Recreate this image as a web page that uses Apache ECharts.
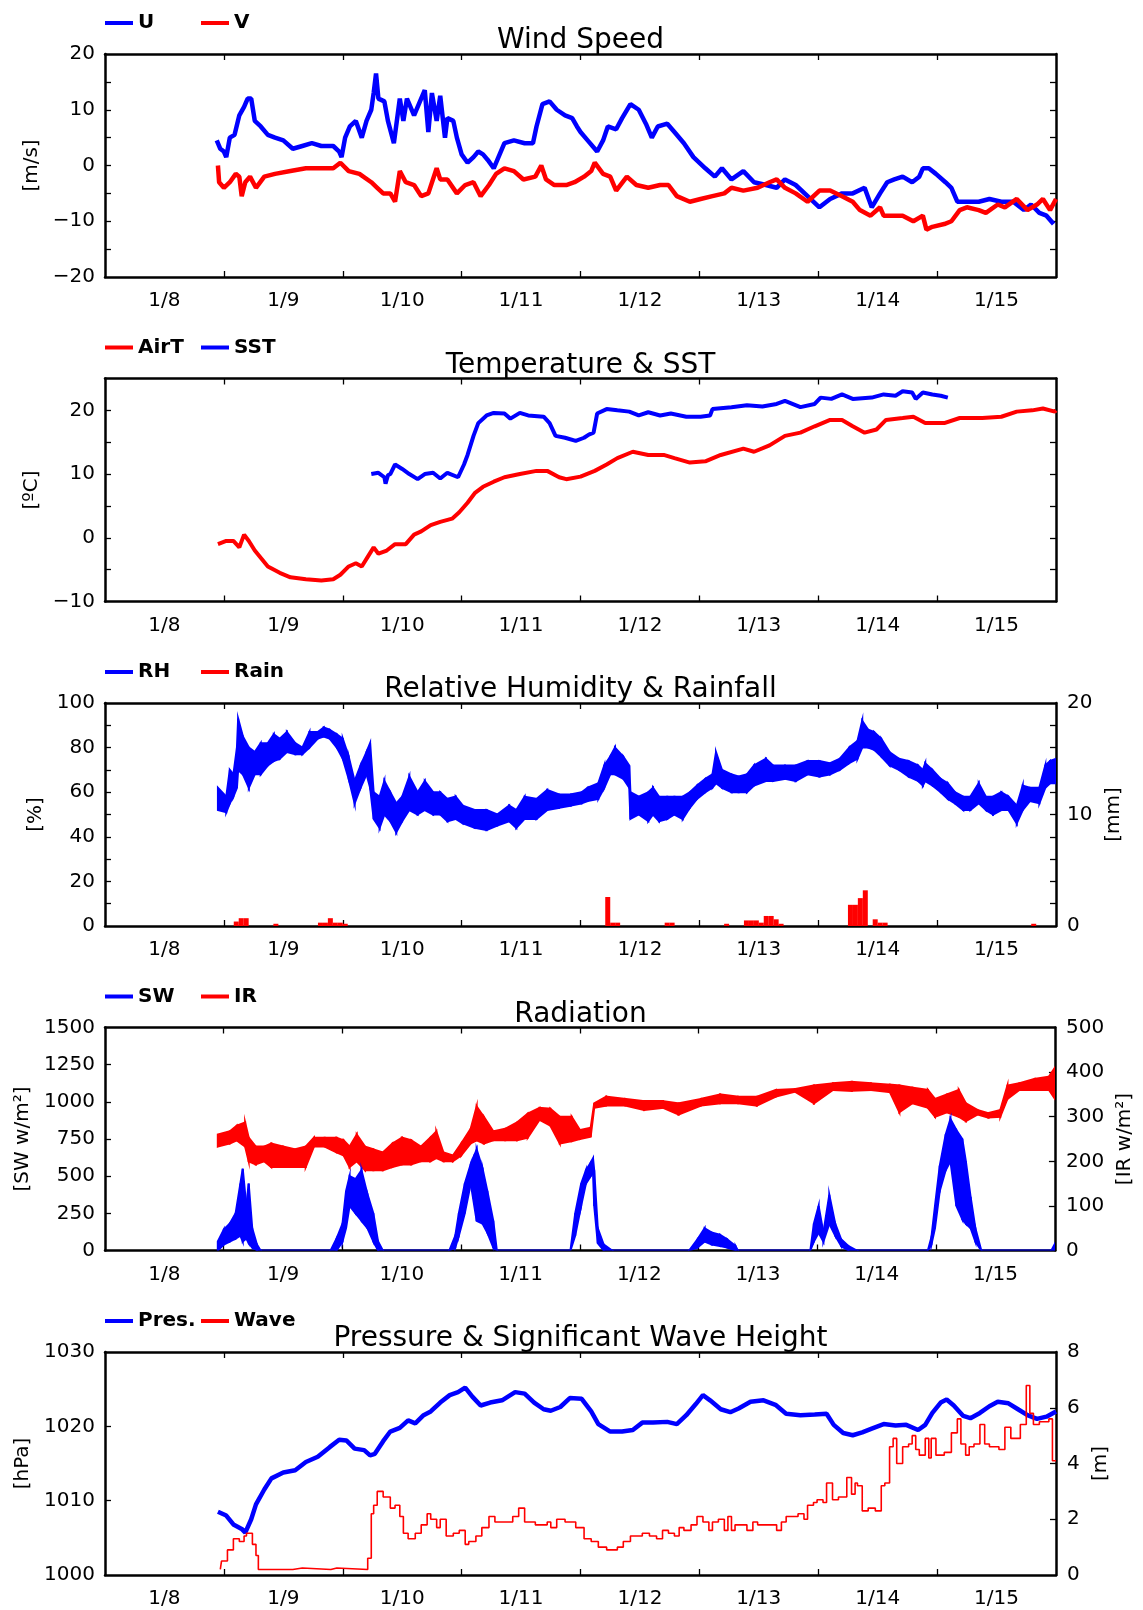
<!DOCTYPE html>
<html><head><meta charset="utf-8">
<script src="https://cdn.jsdelivr.net/npm/echarts@6/dist/echarts.min.js"></script>
<style>html,body{margin:0;padding:0;background:#fff}#c{width:1143px;height:1610px}</style>
</head><body><div id="c"></div>
<script>
// x values: days since 1/8 00:00
const dayLabels = ['1/8','1/9','1/10','1/11','1/12','1/13','1/14','1/15'];

const windU = [[0.94,4.5],[0.97,3],[1.0,2.5],[1.02,1.5],[1.05,5],[1.09,5.5],[1.13,9],[1.17,10.5],[1.2,12],[1.23,12],[1.26,8],[1.31,7],[1.37,5.5],[1.43,5],[1.5,4.5],[1.58,3],[1.66,3.5],[1.74,4],[1.82,3.5],[1.92,3.5],[1.97,2.5],[1.99,1.5],[2.02,5],[2.06,7],[2.11,8],[2.16,5],[2.2,8],[2.24,10],[2.26,13],[2.28,16.5],[2.3,12],[2.35,11.5],[2.38,8],[2.43,4],[2.48,12],[2.51,8],[2.54,12],[2.6,9],[2.64,11],[2.69,13.5],[2.72,6],[2.75,13],[2.79,8],[2.82,12.5],[2.86,5],[2.88,8.5],[2.93,8],[2.96,5],[3.0,2],[3.05,0.5],[3.1,1.5],[3.14,2.5],[3.18,2],[3.22,1],[3.27,-0.5],[3.31,1.5],[3.36,4],[3.44,4.5],[3.53,4],[3.6,4],[3.63,7],[3.68,11],[3.74,11.5],[3.8,10],[3.87,9],[3.93,8.5],[3.97,7],[4.0,6],[4.06,4.5],[4.14,2.5],[4.19,4.5],[4.23,7],[4.3,6.5],[4.35,8.5],[4.42,11],[4.49,10],[4.55,7.5],[4.6,5],[4.65,7],[4.73,7.5],[4.79,6],[4.87,4],[4.95,1.5],[5.05,-0.5],[5.13,-2],[5.19,-0.5],[5.27,-2.5],[5.37,-1],[5.46,-3],[5.56,-3.5],[5.65,-4],[5.72,-2.5],[5.81,-3.5],[5.91,-5.5],[6.01,-7.5],[6.1,-6],[6.2,-5],[6.29,-5],[6.39,-4],[6.45,-7.5],[6.52,-5],[6.58,-3],[6.64,-2.5],[6.71,-2],[6.79,-3],[6.85,-2],[6.88,-0.5],[6.93,-0.5],[6.99,-1.5],[7.07,-3],[7.12,-4],[7.17,-6.5],[7.25,-6.5],[7.35,-6.5],[7.44,-6],[7.54,-6.5],[7.64,-6.5],[7.73,-8],[7.79,-7],[7.86,-8.5],[7.92,-9],[7.98,-10.5]];

const windV = [[0.95,0],[0.96,-3],[1.0,-4],[1.05,-3],[1.1,-1.5],[1.13,-2],[1.15,-5.5],[1.18,-3],[1.22,-2],[1.27,-4],[1.34,-2],[1.43,-1.5],[1.56,-1],[1.69,-0.5],[1.82,-0.5],[1.92,-0.5],[1.98,0.5],[2.05,-1],[2.14,-1.5],[2.24,-3],[2.29,-4],[2.34,-5],[2.4,-5],[2.44,-6.5],[2.48,-1],[2.53,-3],[2.6,-3.5],[2.66,-5.5],[2.72,-5],[2.79,-0.5],[2.82,-2.5],[2.88,-2.5],[2.96,-5],[3.03,-3.5],[3.1,-3],[3.16,-5.5],[3.23,-3.5],[3.29,-1.5],[3.36,-0.5],[3.44,-1],[3.52,-2.5],[3.62,-2],[3.67,0],[3.71,-2.5],[3.78,-3.5],[3.88,-3.5],[3.95,-3],[4.03,-2],[4.09,-1],[4.12,0.5],[4.19,-1.5],[4.25,-2],[4.3,-4.5],[4.39,-2],[4.47,-3.5],[4.57,-4],[4.67,-3.5],[4.74,-3.5],[4.81,-5.5],[4.92,-6.5],[5.01,-6],[5.11,-5.5],[5.21,-5],[5.27,-4],[5.37,-4.5],[5.49,-4],[5.59,-3],[5.65,-2.5],[5.72,-4],[5.81,-5],[5.91,-6.5],[6.01,-4.5],[6.1,-4.5],[6.2,-5.5],[6.29,-6.5],[6.35,-8],[6.44,-9],[6.52,-7.5],[6.55,-9],[6.61,-9],[6.71,-9],[6.8,-10],[6.88,-9],[6.91,-11.5],[6.96,-11],[7.06,-10.5],[7.12,-10],[7.19,-8],[7.25,-7.5],[7.35,-8],[7.41,-8.5],[7.51,-7],[7.57,-7.5],[7.67,-6],[7.76,-8],[7.84,-7],[7.89,-6],[7.95,-8],[8.0,-6]];

const airT = [[0.95,-1],[1.02,-0.5],[1.08,-0.5],[1.13,-1.5],[1.17,0.5],[1.21,-0.5],[1.26,-2],[1.37,-4.5],[1.47,-5.5],[1.56,-6.2],[1.69,-6.5],[1.82,-6.7],[1.92,-6.5],[1.98,-5.8],[2.05,-4.5],[2.11,-4],[2.16,-4.5],[2.21,-3],[2.26,-1.5],[2.3,-2.5],[2.37,-2],[2.44,-1],[2.53,-1],[2.6,0.5],[2.66,1],[2.74,2],[2.82,2.5],[2.92,3],[2.98,4],[3.05,5.5],[3.11,7],[3.18,8],[3.27,8.8],[3.36,9.5],[3.49,10],[3.63,10.5],[3.72,10.5],[3.82,9.5],[3.88,9.2],[4.0,9.6],[4.12,10.5],[4.22,11.5],[4.31,12.5],[4.44,13.5],[4.57,13],[4.7,13],[4.79,12.5],[4.92,11.8],[5.05,12],[5.18,13],[5.37,14],[5.46,13.5],[5.59,14.5],[5.72,16],[5.85,16.5],[5.97,17.5],[6.1,18.5],[6.2,18.5],[6.29,17.5],[6.39,16.5],[6.49,17],[6.57,18.5],[6.71,18.8],[6.8,19],[6.9,18],[7.06,18],[7.19,18.8],[7.38,18.8],[7.54,19],[7.67,19.8],[7.8,20],[7.89,20.3],[7.99,19.8],[8.0,20]];

const sst = [[2.24,10],[2.3,10.2],[2.35,9.5],[2.36,8.5],[2.38,9.8],[2.4,10],[2.44,11.5],[2.5,10.8],[2.56,10],[2.63,9.2],[2.69,10],[2.76,10.2],[2.82,9.3],[2.88,10.2],[2.97,9.5],[3.02,11.5],[3.05,13],[3.1,16],[3.14,18],[3.21,19.2],[3.27,19.6],[3.36,19.5],[3.41,18.7],[3.49,19.6],[3.56,19.2],[3.69,19],[3.74,18],[3.79,16],[3.87,15.7],[3.96,15.2],[4.03,15.7],[4.07,16.2],[4.11,16.5],[4.14,19.5],[4.22,20.2],[4.31,20],[4.41,19.8],[4.49,19.2],[4.57,19.7],[4.67,19.2],[4.76,19.5],[4.89,19],[5.01,19],[5.09,19.2],[5.11,20.2],[5.27,20.5],[5.4,20.8],[5.53,20.6],[5.65,21],[5.72,21.5],[5.85,20.5],[5.97,21],[6.02,22],[6.11,21.8],[6.2,22.5],[6.29,21.8],[6.45,22],[6.55,22.5],[6.65,22.3],[6.71,23],[6.79,22.8],[6.82,21.8],[6.88,22.8],[6.96,22.5],[7.03,22.3],[7.09,22]];

// Relative humidity: scattered band, lower / upper edge
const rhTime = [0.95,1.02,1.05,1.08,1.11,1.12,1.16,1.21,1.26,1.31,1.37,1.42,1.47,1.53,1.6,1.66,1.72,1.79,1.84,1.89,1.95,2.0,2.05,2.1,2.15,2.2,2.23,2.26,2.31,2.35,2.4,2.45,2.5,2.56,2.63,2.69,2.76,2.82,2.88,2.95,3.01,3.11,3.21,3.3,3.4,3.46,3.53,3.63,3.72,3.82,3.92,4.01,4.06,4.15,4.2,4.25,4.29,4.36,4.41,4.42,4.49,4.57,4.61,4.66,4.73,4.79,4.86,4.92,4.98,5.05,5.11,5.14,5.19,5.27,5.33,5.4,5.46,5.56,5.62,5.72,5.81,5.91,6.01,6.1,6.18,6.26,6.33,6.37,6.42,6.47,6.53,6.6,6.68,6.76,6.84,6.88,6.9,6.96,7.03,7.09,7.15,7.22,7.28,7.35,7.41,7.47,7.54,7.6,7.67,7.72,7.78,7.86,7.91,7.95,8.0];
const rhLow  = [52,51,55,58,62,70,68,62,68,68,72,74,75,78,77,77,80,84,85,84,80,75,66,55,62,68,62,48,44,50,47,42,47,52,50,52,50,50,47,48,46,44,43,45,47,44,48,48,52,53,54,55,56,57,62,68,68,66,62,48,50,47,50,47,48,50,48,53,57,60,62,64,62,60,60,60,63,65,65,66,65,68,67,68,70,73,75,80,80,79,76,72,70,67,65,63,65,63,60,57,55,52,52,55,52,50,52,52,46,52,56,55,62,64,64];
const rhHigh = [62,58,70,68,80,93,85,80,78,82,82,86,84,87,82,80,87,87,89,88,86,84,76,65,72,78,82,60,58,65,60,55,58,67,60,65,60,60,57,58,54,52,52,50,54,52,58,57,61,59,59,60,62,64,72,76,80,76,72,60,58,60,62,58,58,58,58,60,63,66,68,78,70,68,67,68,72,75,72,72,72,74,74,73,75,80,83,92,88,87,84,78,75,74,72,70,73,70,66,64,60,58,58,64,58,58,60,58,54,63,62,62,72,74,75];

// Rainfall, hourly bins (hour index since 1/8 00:00) in mm
const rainHour = [26,27,28,34,43,44,45,46,47,48,101,102,103,113,114,125,129,130,131,132,133,134,135,136,150,151,152,153,155,156,157,187];
const rainMm   = [0.4,0.7,0.7,0.2,0.3,0.3,0.7,0.3,0.3,0.2,2.6,0.3,0.3,0.3,0.3,0.2,0.5,0.5,0.5,0.3,0.9,0.9,0.6,0.2,1.9,1.9,2.5,3.2,0.6,0.3,0.3,0.2];

// Short-wave radiation band (W/m2)
const swTime = [0.95,1.0,1.05,1.1,1.14,1.16,1.19,1.21,1.24,1.28,1.31,1.9,1.95,2.0,2.03,2.06,2.11,2.16,2.21,2.26,2.3,2.34,2.9,2.95,2.98,3.03,3.08,3.1,3.13,3.18,3.22,3.27,3.3,3.92,3.96,4.01,4.05,4.09,4.11,4.12,4.15,4.2,4.27,4.92,4.99,5.05,5.11,5.18,5.24,5.31,5.33,5.94,5.97,6.01,6.05,6.1,6.15,6.2,6.26,6.33,6.93,6.96,6.99,7.03,7.08,7.12,7.17,7.22,7.25,7.29,7.33,7.38,7.97,8.0];
const swLow  = [0,40,60,80,100,60,80,50,20,0,0,0,0,60,150,300,250,200,150,60,0,0,0,20,100,250,450,350,200,180,120,20,0,0,100,300,450,500,520,300,50,0,0,0,20,60,40,30,20,0,0,0,60,120,60,180,100,30,0,0,0,40,150,400,540,600,300,210,180,150,60,0,0,0];
const swHigh = [60,140,180,250,450,550,300,450,150,40,0,0,80,180,400,500,480,540,380,250,60,0,0,100,250,450,580,620,680,550,400,200,0,0,250,450,540,590,620,540,150,40,0,0,75,150,120,105,75,30,0,0,180,300,120,375,180,75,30,0,0,90,300,570,780,885,810,750,600,360,150,0,0,45];

// Infrared radiation band (W/m2)
const irTime = [0.95,1.05,1.11,1.18,1.21,1.27,1.34,1.4,1.5,1.6,1.69,1.76,1.85,1.95,2.01,2.06,2.12,2.19,2.26,2.34,2.42,2.5,2.58,2.66,2.74,2.79,2.85,2.93,3.0,3.08,3.13,3.19,3.27,3.37,3.47,3.56,3.66,3.75,3.83,3.93,4.0,4.09,4.12,4.22,4.38,4.54,4.7,4.83,5.02,5.18,5.33,5.49,5.65,5.81,5.97,6.13,6.29,6.45,6.61,6.69,6.8,6.93,6.99,7.09,7.19,7.25,7.35,7.44,7.54,7.6,7.7,7.83,7.95,8.0];
const irLow  = [233,240,247,233,200,193,200,187,187,187,187,233,233,220,213,187,200,180,180,180,187,193,193,200,200,207,200,200,213,240,247,240,247,247,247,253,293,280,240,245,250,255,320,325,325,315,320,305,325,330,330,325,345,356,330,360,358,360,355,310,330,320,300,310,300,290,305,298,300,340,360,360,360,340];
const irHigh = [260,267,280,287,253,233,233,240,233,227,233,253,253,253,247,233,260,233,227,220,240,253,247,233,253,267,220,213,240,273,323,300,267,273,287,307,320,318,300,300,270,275,330,345,340,335,335,330,340,350,345,345,360,362,370,375,378,375,372,370,365,360,340,350,360,330,315,308,315,370,375,385,390,410];

const pres = [[0.95,1008.5],[1.02,1008],[1.08,1006.8],[1.15,1006.2],[1.18,1005.7],[1.23,1007.5],[1.27,1009.5],[1.34,1011.5],[1.4,1013],[1.5,1013.8],[1.6,1014.1],[1.69,1015.2],[1.79,1015.9],[1.89,1017.2],[1.97,1018.2],[2.03,1018.1],[2.1,1017],[2.18,1016.8],[2.23,1016.1],[2.27,1016.3],[2.34,1018],[2.4,1019.3],[2.48,1019.8],[2.55,1020.8],[2.61,1020.4],[2.68,1021.5],[2.74,1022],[2.82,1023.2],[2.9,1024.2],[2.97,1024.6],[3.03,1025.2],[3.09,1024],[3.16,1022.8],[3.24,1023.2],[3.34,1023.5],[3.45,1024.6],[3.53,1024.4],[3.61,1023.2],[3.69,1022.3],[3.75,1022.1],[3.83,1022.6],[3.91,1023.8],[4.01,1023.7],[4.09,1022],[4.15,1020.3],[4.25,1019.3],[4.35,1019.3],[4.44,1019.5],[4.52,1020.5],[4.61,1020.5],[4.73,1020.6],[4.81,1020.3],[4.89,1021.5],[4.97,1023],[5.03,1024.2],[5.09,1023.5],[5.18,1022.3],[5.26,1021.9],[5.33,1022.4],[5.43,1023.3],[5.54,1023.5],[5.64,1022.9],[5.73,1021.7],[5.85,1021.5],[5.97,1021.6],[6.07,1021.7],[6.13,1020.2],[6.21,1019.1],[6.29,1018.8],[6.37,1019.2],[6.45,1019.7],[6.55,1020.3],[6.65,1020.1],[6.74,1020.2],[6.84,1019.5],[6.9,1020.2],[6.96,1021.8],[7.03,1023.2],[7.08,1023.6],[7.14,1022.8],[7.22,1021.4],[7.28,1021.1],[7.36,1021.8],[7.44,1022.7],[7.51,1023.3],[7.6,1023.1],[7.68,1022.3],[7.76,1021.5],[7.84,1021],[7.92,1021.3],[8.0,1022]];

// Significant wave height (m), value holds from its time until the next one
const wave = [[0.97,0.2],[0.98,0.5],[1.03,0.9],[1.08,1.3],[1.13,1.2],[1.17,1.4],[1.19,1.5],[1.24,1.1],[1.27,0.7],[1.29,0.2],[1.58,0.25],[1.66,0.2],[1.9,0.25],[1.95,0.2],[2.21,0.6],[2.24,2.2],[2.26,2.5],[2.29,3.0],[2.34,2.8],[2.4,2.4],[2.44,2.5],[2.48,2.1],[2.51,1.5],[2.55,1.3],[2.61,1.5],[2.66,1.8],[2.71,2.2],[2.74,2.0],[2.79,1.7],[2.82,2.0],[2.87,1.4],[2.93,1.5],[2.98,1.6],[3.03,1.1],[3.06,1.2],[3.12,1.4],[3.17,1.7],[3.23,2.1],[3.28,1.9],[3.43,2.1],[3.48,2.4],[3.53,1.9],[3.62,1.8],[3.72,1.9],[3.75,1.7],[3.8,2.0],[3.87,1.9],[3.96,1.7],[4.03,1.3],[4.09,1.2],[4.15,1.0],[4.22,0.9],[4.31,1.0],[4.36,1.2],[4.42,1.4],[4.52,1.5],[4.58,1.4],[4.64,1.3],[4.69,1.6],[4.74,1.5],[4.79,1.4],[4.83,1.7],[4.87,1.6],[4.93,1.8],[4.98,2.1],[5.03,1.9],[5.08,1.6],[5.11,1.9],[5.16,2.0],[5.21,1.6],[5.24,2.1],[5.27,1.6],[5.3,1.8],[5.4,1.6],[5.45,1.9],[5.49,1.8],[5.65,1.6],[5.69,1.9],[5.73,2.1],[5.83,2.2],[5.88,2.0],[5.91,2.5],[5.96,2.6],[5.99,2.7],[6.04,2.6],[6.07,3.3],[6.12,2.7],[6.17,2.8],[6.24,3.5],[6.28,2.9],[6.31,3.3],[6.33,3.2],[6.37,2.3],[6.42,2.4],[6.48,2.3],[6.53,3.2],[6.56,3.3],[6.6,4.6],[6.63,4.9],[6.66,4.0],[6.71,4.6],[6.76,4.7],[6.79,5.0],[6.82,4.5],[6.85,4.3],[6.9,4.9],[6.93,4.2],[6.95,4.9],[6.99,4.3],[7.06,4.4],[7.12,5.1],[7.17,5.6],[7.2,4.7],[7.24,4.3],[7.27,4.6],[7.31,4.7],[7.36,5.4],[7.4,4.7],[7.44,4.6],[7.52,4.5],[7.57,5.3],[7.62,4.9],[7.7,5.4],[7.75,6.8],[7.78,5.8],[7.81,5.4],[7.86,5.5],[7.94,5.6],[7.97,4.1],[8.0,4.1]];

const titles = ['Wind Speed','Temperature & SST','Relative Humidity & Rainfall','Radiation','Pressure & Significant Wave Height'];
const legendNames = [['U','V'],['AirT','SST'],['RH','Rain'],['SW','IR'],['Pres.','Wave']];
const leftNames = ['[m/s]','[ºC]','[%]','[SW w/m²]','[hPa]'];
const rightNames = [null,null,'[mm]','[IR w/m²]','[m]'];

const BLUE = '#0000ff', RED = '#ff0000', FONT = 'DejaVu Sans';
const PL = 105, PW = 951, PH = 223;
const tops = [54, 378.5, 703, 1027.5, 1352];
const range = (a,b,s)=>{const r=[];for(let v=a;v<=b+1e-9;v+=s)r.push(+v.toFixed(6));return r;};
const numFmt = v => (v < 0 ? '\u2212' + String(-v) : String(v));

const yCfg = [
  {L:{min:-20,max:20,ticks:range(-15,15,5),labels:range(-20,20,10)}, R:null},
  {L:{min:-10,max:25,ticks:range(-5,20,5),labels:range(-10,20,10)}, R:null},
  {L:{min:0,max:100,ticks:range(10,90,10),labels:range(0,100,20)}, R:{min:0,max:20,ticks:range(2,18,2),labels:range(0,20,10)}},
  {L:{min:0,max:1500,ticks:range(250,1250,250),labels:range(0,1500,250)}, R:{min:0,max:500,ticks:range(100,400,100),labels:range(0,500,100)}},
  {L:{min:1000,max:1030,ticks:range(1010,1020,10),labels:range(1000,1030,10)}, R:{min:0,max:8,ticks:range(2,6,2),labels:range(0,8,2)}}
];
const leftGap = [58,58,58,65,65];
const rightGap = [0,0,46,60,34];

const axisLineS = {show:true,onZero:false,lineStyle:{color:'#000',width:2.5}};
const tickS = (vals)=>({show:true,inside:true,length:6,customValues:vals,lineStyle:{color:'#000',width:1.3}});
const labelS = {fontFamily:FONT,fontSize:20,color:'#000'};

const grid=[], xAxis=[], yAxis=[], title=[], legend=[];
for (let i=0;i<5;i++){
  grid.push({left:PL,top:tops[i],width:PW,height:PH});
  xAxis.push({type:'value',gridIndex:i,min:0,max:8,position:'bottom',axisLine:axisLineS,axisTick:tickS(range(1,7,1)),
    axisLabel:Object.assign({show:true,margin:14,customValues:range(0.5,7.5,1),formatter:v=>dayLabels[Math.floor(v)]},labelS),splitLine:{show:false}});
  xAxis.push({type:'value',gridIndex:i,min:0,max:8,position:'top',axisLine:axisLineS,axisTick:tickS(range(1,7,1)),axisLabel:{show:false},splitLine:{show:false}});
  const L=yCfg[i].L, R=yCfg[i].R||yCfg[i].L;
  yAxis.push({type:'value',gridIndex:i,position:'left',min:L.min,max:L.max,axisLine:axisLineS,axisTick:tickS(L.ticks),
    axisLabel:Object.assign({show:true,margin:10,customValues:L.labels,formatter:numFmt},labelS),splitLine:{show:false},
    name:leftNames[i],nameLocation:'middle',nameGap:leftGap[i],nameTextStyle:{fontFamily:FONT,fontSize:20,color:'#000'}});
  const ry = {type:'value',gridIndex:i,position:'right',min:R.min,max:R.max,axisLine:axisLineS,axisTick:tickS(R.ticks),splitLine:{show:false}};
  if (yCfg[i].R){
    ry.axisLabel = Object.assign({show:true,margin:11,customValues:R.labels,formatter:numFmt},labelS);
    ry.name = rightNames[i]; ry.nameLocation='middle'; ry.nameGap=rightGap[i]; ry.nameRotate=90;
    ry.nameTextStyle={fontFamily:FONT,fontSize:20,color:'#000'};
  } else ry.axisLabel={show:false};
  yAxis.push(ry);
  title.push({text:titles[i],left:580.5,textAlign:'center',top:tops[i]-27,padding:0,
    textStyle:{fontFamily:FONT,fontSize:28,fontWeight:'normal',color:'#000'}});
  [105,201].forEach((lx,j)=>legend.push({data:[legendNames[i][j]],left:lx,top:tops[i]-41,padding:0,icon:'rect',
    itemWidth:28,itemHeight:4,selectedMode:false,textStyle:{fontFamily:FONT,fontSize:20,fontWeight:'bold',color:'#000'}}));
}

function lineS(name,data,color,gi,yi,w,extra){
  return Object.assign({name,type:'line',xAxisIndex:2*gi,yAxisIndex:yi,data,symbol:'none',color,
    lineStyle:{color,width:w},itemStyle:{color},clip:true,silent:true},extra||{});
}
function bandS(name,time,lo,hi,color,gi,yi){
  const data=[];
  for(let k=0;k<time.length-1;k++) data.push([time[k],lo[k],hi[k],time[k+1],lo[k+1],hi[k+1]]);
  return {name,type:'custom',xAxisIndex:2*gi,yAxisIndex:yi,data,color,itemStyle:{color},clip:true,silent:true,
    encode:{x:[0,3],y:[1,2,4,5]},
    renderItem:(p,api)=>{
      const a=api.coord([api.value(0),api.value(1)]), b=api.coord([api.value(3),api.value(4)]),
            c=api.coord([api.value(3),api.value(5)]), d=api.coord([api.value(0),api.value(2)]);
      return {type:'polygon',shape:{points:[a,b,c,d]},style:{fill:color,stroke:color,lineWidth:2}};
    }};
}

const series = [
  lineS('U',windU,BLUE,0,0,4.5),
  lineS('V',windV,RED,0,0,4.5),
  lineS('AirT',airT,RED,1,2,4),
  lineS('SST',sst,BLUE,1,2,4),
  bandS('RH',rhTime,rhLow,rhHigh,BLUE,2,4),
  {name:'Rain',type:'bar',xAxisIndex:4,yAxisIndex:5,barWidth:5,color:RED,itemStyle:{color:RED},silent:true,
    data:rainHour.map((h,k)=>[(h+0.5)/24,rainMm[k]])},
  bandS('IR',irTime,irLow,irHigh,RED,3,7),
  bandS('SW',swTime,swLow,swHigh,BLUE,3,6),
  lineS('Pres.',pres,BLUE,4,8,4.5),
  lineS('Wave',wave,RED,4,9,1.6,{step:'end'})
];

const chart = echarts.init(document.getElementById('c'),null,{renderer:'canvas'});
chart.setOption({animation:false,backgroundColor:'#fff',grid,xAxis,yAxis,title,legend,series});
</script></body></html>
